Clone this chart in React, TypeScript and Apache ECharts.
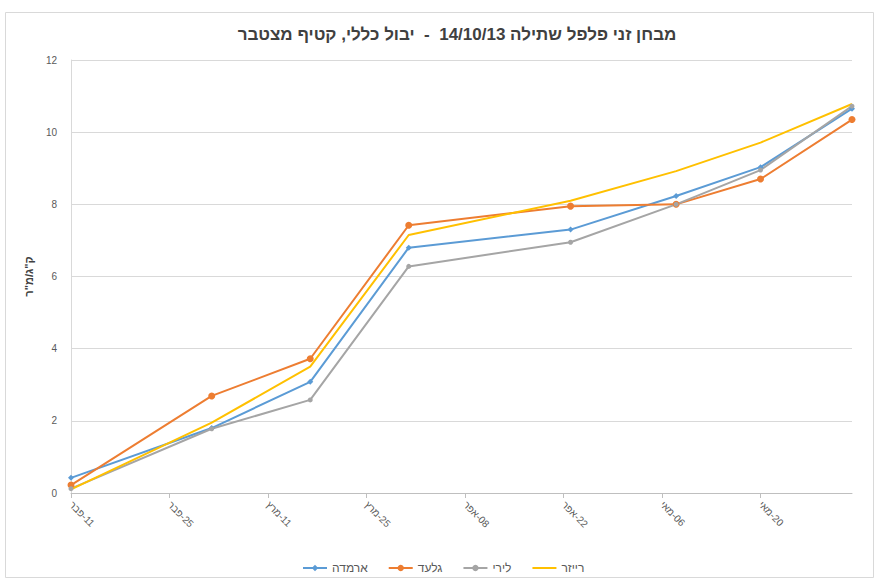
import React, { useEffect, useRef } from "react";
import * as echarts from "echarts";

const titleText = "מבחן זני פלפל שתילה 14/10/13  -  יבול כללי, קטיף מצטבר";
const yAxisName = "ק\"ג/מ\"ר";
const harvestDates = ["2014-02-11", "2014-03-03", "2014-03-17", "2014-03-31", "2014-04-23", "2014-05-08", "2014-05-20", "2014-06-02"];
const tickLabels = ["פבר-11", "פבר-25", "מרץ-11", "מרץ-25", "אפר-08", "אפר-22", "מאי-06", "מאי-20"];
const seriesNames = ["ארמדה", "גלעד", "לירי", "רייזר"];
const armada = [0.42, 1.8, 3.08, 6.8, 7.3, 8.23, 9.03, 10.65];
const gilad = [0.22, 2.69, 3.72, 7.42, 7.95, 8.0, 8.7, 10.35];
const liri = [0.12, 1.78, 2.58, 6.28, 6.95, 8.0, 8.95, 10.72];
const riser = [0.1, 1.95, 3.5, 7.15, 8.1, 8.92, 9.71, 10.78];
const colors = ["#5B9BD5", "#ED7D31", "#A5A5A5", "#FFC000"];

const DAY = 86400000;
const start = Date.parse(harvestDates[0] + "T00:00:00Z");
const dayOffsets = harvestDates.map((d) => Math.round((Date.parse(d + "T00:00:00Z") - start) / DAY));
const FONT = "Liberation Sans, Arial, sans-serif";

export default function App() {
  const ref = useRef<HTMLDivElement>(null);
  useEffect(() => {
    document.body.style.margin = "0";
    const chart = echarts.init(ref.current!, undefined, { renderer: "svg" });
    const all = [armada, gilad, liri, riser];
    const symbols = ["diamond", "circle", "circle", "none"];
    const sizes = [6, 7, 5, 0];
    chart.setOption({
      animation: false,
      backgroundColor: "#ffffff",
      title: {
        text: titleText,
        left: 452,
        textAlign: "center",
        top: 21,
        textStyle: { fontFamily: FONT, fontSize: 17, fontWeight: "bold", color: "#404040" },
      },
      graphic: [
        {
          type: "rect",
          shape: { x: 5.5, y: 12.5, width: 868, height: 565 },
          style: { fill: "none", stroke: "#d9d9d9", lineWidth: 1 },
          silent: true,
        },
      ],
      legend: {
        data: seriesNames.map((name, i) =>
          symbols[i] === "none" ? { name, itemStyle: { opacity: 0 } } : { name }
        ),
        left: 297,
        top: 557,
        itemGap: 20,
        itemWidth: 24,
        itemHeight: 8,
        textStyle: { fontFamily: FONT, fontSize: 12, color: "#595959" },
      },
      grid: { left: 71, right: 27, top: 60, bottom: 88, containLabel: false },
      xAxis: {
        type: "value",
        min: 0,
        max: dayOffsets[dayOffsets.length - 1],
        interval: 14,
        splitLine: { show: false },
        axisLine: { show: true, lineStyle: { color: "#bfbfbf" } },
        axisTick: { show: true, length: 5, lineStyle: { color: "#bfbfbf" } },
        axisLabel: {
          rotate: -45,
          margin: 10,
          color: "#595959",
          fontSize: 10,
          fontFamily: FONT,
          showMaxLabel: false,
          formatter: (v: number) => {
            if (v % 14 !== 0) return "";
            const lab = tickLabels[v / 14];
            if (!lab) return "";
            const k = lab.indexOf("-");
            return "{m|" + lab.slice(0, k) + "}{d|" + lab.slice(k) + "}";
          },
          rich: {
            m: { fontSize: 10, color: "#595959", fontFamily: FONT },
            d: { fontSize: 10, color: "#595959", fontFamily: FONT },
          },
        },
      },
      yAxis: {
        type: "value",
        min: 0,
        max: 12,
        interval: 2,
        name: yAxisName,
        nameLocation: "middle",
        nameGap: 34,
        nameRotate: 90,
        nameTextStyle: { fontFamily: FONT, fontSize: 11, fontWeight: "bold", color: "#404040" },
        axisLine: { show: true, lineStyle: { color: "#d9d9d9" } },
        axisTick: { show: false },
        splitLine: { lineStyle: { color: "#d9d9d9" } },
        axisLabel: { color: "#595959", fontSize: 10, margin: 14, fontFamily: FONT },
      },
      series: seriesNames.map((name, i) => ({
        name,
        type: "line",
        data: dayOffsets.map((d, j) => [d, all[i][j]]),
        symbol: symbols[i],
        symbolSize: sizes[i],
        showSymbol: symbols[i] !== "none",
        itemStyle: { color: colors[i] },
        lineStyle: { color: colors[i], width: 2 },
      })),
    });
    return () => chart.dispose();
  }, []);
  return <div ref={ref} style={{ width: 879, height: 581 }} />;
}
